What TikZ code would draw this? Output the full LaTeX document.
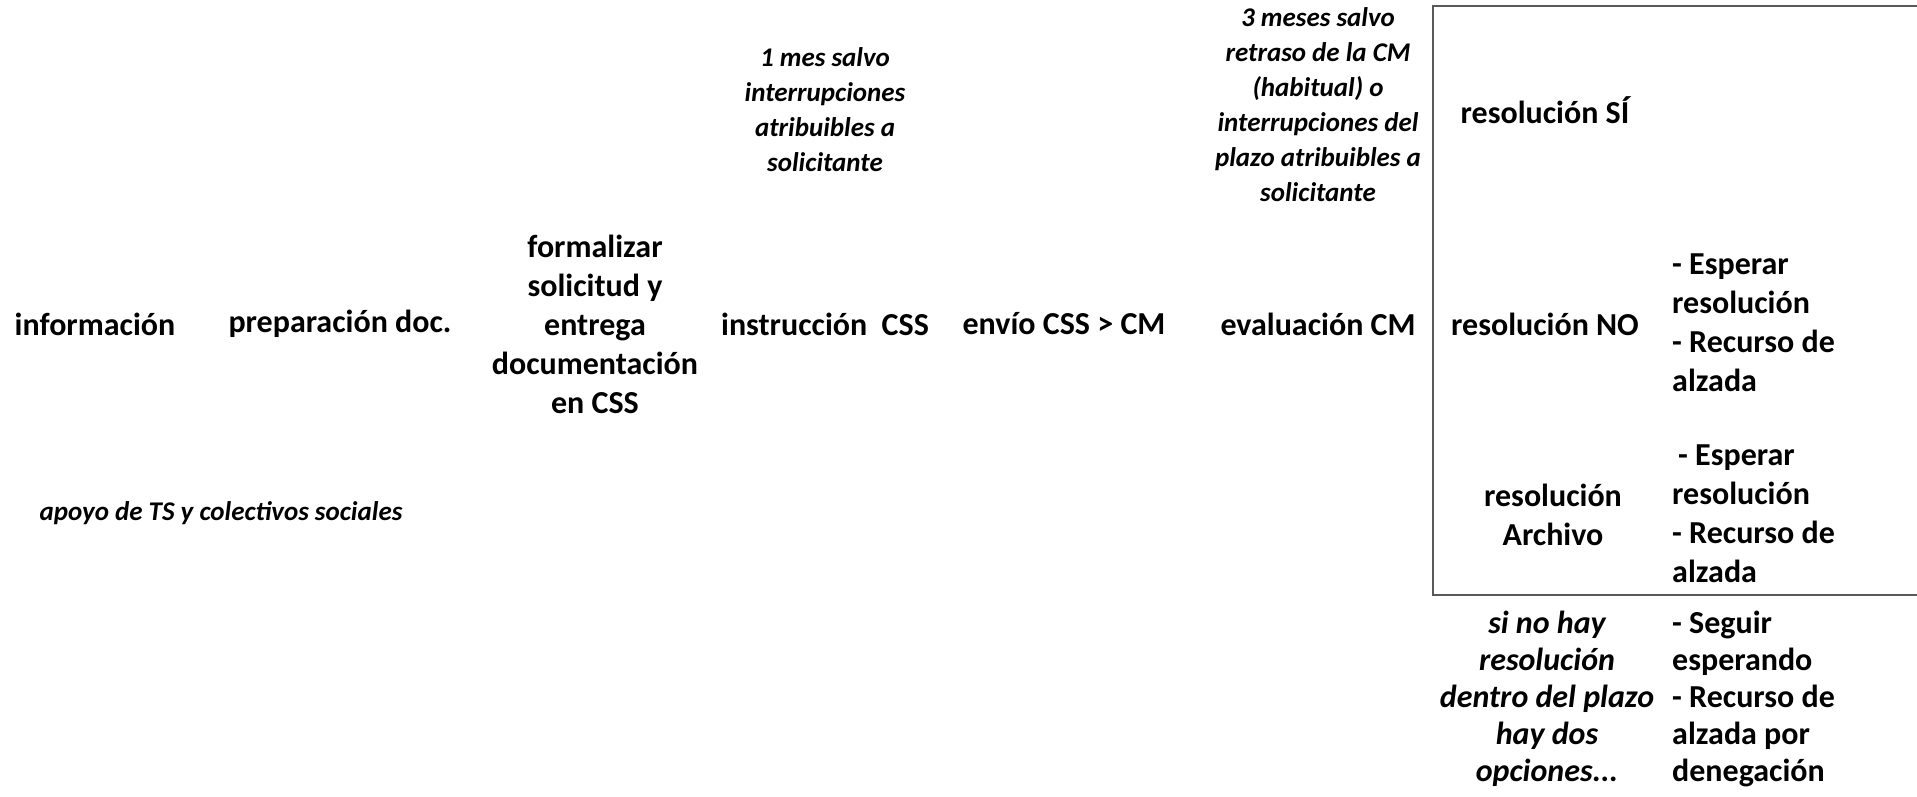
\documentclass[tikz,border=0pt]{standalone}
\usepackage{fontspec}
\setmainfont{Carlito}
\usetikzlibrary{positioning}

\begin{document}
\begin{tikzpicture}[
    x=1pt, y=-1pt,
    paso/.style={font=\bfseries\fontsize{32}{39}\selectfont, align=center, inner sep=0pt},
    opcion/.style={font=\bfseries\fontsize{32}{39}\selectfont, align=left, anchor=west, inner sep=0pt},
    nota/.style={font=\bfseries\itshape\fontsize{27}{35}\selectfont, align=center, inner sep=0pt},
    marco/.style={draw=black!65, line width=1.2pt}
]
    \useasboundingbox (0,0) rectangle (1917,797);

    % --- pasos del procedimiento ---
    \node[paso] (info) at (95,324) {información};
    \node[paso] (prep) at (340,324) {preparación doc.};
    \node[paso] (solicitud) at (595,324) {formalizar\\solicitud y\\entrega\\documentación\\en CSS};
    \node[paso] (instr) at (825,324) {instrucción~~CSS};
    \node[paso] (envio) at (1064,324) {envío CSS > CM};
    \node[paso] (eval) at (1318,324) {evaluación CM};

    % --- plazos ---
    \node[nota] (plazoinstr) at (825,110) {1 mes salvo\\interrupciones\\atribuibles a\\solicitante};
    \node[nota] (plazoeval) at (1318,105) {3 meses salvo\\retraso de la CM\\(habitual) o\\interrupciones del\\plazo atribuibles a\\solicitante};
    \node[nota] (apoyo) at (221,513) {apoyo de TS y colectivos sociales};

    % --- resoluciones ---
    \draw[marco] (1917,6) -- (1433,6) -- (1433,595) -- (1917,595);
    \node[paso] (resSi) at (1545,110) {resolución SÍ};
    \node[paso] (resNo) at (1545,324) {resolución NO};
    \node[opcion] (opNo) at (1672,323) {- Esperar\\resolución\\- Recurso de\\alzada};
    \node[paso] (resArch) at (1553,515) {resolución\\Archivo};
    \node[opcion] (opArch) at (1672,514) {\hspace{6pt}- Esperar\\resolución\\- Recurso de\\alzada};

    % --- silencio ---
    \node[nota, font=\bfseries\itshape\fontsize{32}{37}\selectfont] (silencio) at (1547,699) {si no hay\\resolución\\dentro del plazo\\hay dos\\opciones...};
    \node[opcion, font=\bfseries\fontsize{32}{37}\selectfont] (opSil) at (1672,699) {- Seguir\\esperando\\- Recurso de\\alzada por\\denegación};
\end{tikzpicture}
\end{document}
